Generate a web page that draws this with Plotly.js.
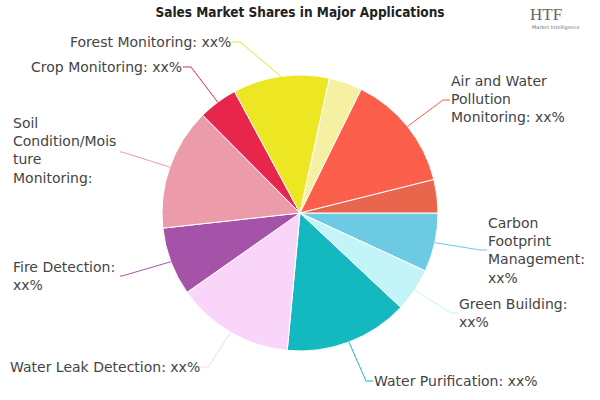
<!DOCTYPE html>
<html><head><meta charset="utf-8">
<script src="https://cdn.plot.ly/plotly-3.0.1.min.js"></script>
<style>html,body{margin:0;padding:0;background:#fff}</style>
</head><body><div id="chart" style="width:600px;height:400px"></div>
<script>
// ---- data ----
const categories = [
  "Carbon Footprint Management", "Green Building", "Water Purification",
  "Water Leak Detection", "Fire Detection", "Soil Condition/Moisture Monitoring",
  "Crop Monitoring", "Forest Monitoring", "Other A",
  "Air and Water Pollution Monitoring", "Other B"
];
const shares = [6.9, 5.1, 14.5, 13.8, 8.0, 14.3, 4.6, 11.3, 3.9, 13.8, 3.9];
const labelTexts = [
  "Carbon<br>Footprint<br>Management:<br>xx%", "Green Building:<br>xx%", "Water Purification: xx%",
  "Water Leak Detection: xx%", "Fire Detection:<br>xx%", "Soil<br>Condition/Mois<br>ture<br>Monitoring:",
  "Crop Monitoring: xx%", "Forest Monitoring: xx%", null,
  "Air and Water<br>Pollution<br>Monitoring: xx%", null
];
const titleText = "Sales Market Shares in Major Applications";

// ---- styles / layout ----
const colors = ["#6ccae3", "#c3f4f7", "#13b9bf", "#fad5fa", "#a553a9", "#eb9ba9",
                "#e8264b", "#ede622", "#f5f0a2", "#fb5f4b", "#e9664d"];
// label placement in pixels: elbow point, text x, text y, anchor
const labelPos = [
  {ex: 480, ey: 250, tx: 487, ty: 250, anchor: "left"},
  {ex: 451, ey: 313, tx: 458, ty: 313, anchor: "left"},
  {ex: 366, ey: 381, tx: 373, ty: 381, anchor: "left"},
  {ex: 208, ey: 367, tx: 201, ty: 367, anchor: "right"},
  {ex: 122, ey: 276, tx: 12,  ty: 276, anchor: "left", endX: 120},
  {ex: 122, ey: 152, tx: 12,  ty: 151, anchor: "left", endX: 120},
  {ex: 191, ey: 67,  tx: 183, ty: 67,  anchor: "right"},
  {ex: 240, ey: 42,  tx: 232, ty: 42,  anchor: "right"},
  null,
  {ex: 443, ey: 100, tx: 450, ty: 99,  anchor: "left"},
  null
];
const W = 600, H = 400;
const cx = 300, cy = 213, R = 138;
const px = x => x / W, py = y => 1 - y / H;

const total = shares.reduce((a, b) => a + b, 0);
const annotations = [], shapes = [];
let cum = 0;
shares.forEach((v, i) => {
  const mid = (cum + v / 2) / total * 2 * Math.PI;
  cum += v;
  const lp = labelPos[i];
  if (!lp || !labelTexts[i]) return;
  const sx = cx + R * Math.cos(mid), sy = cy + R * Math.sin(mid);
  const endX = lp.endX !== undefined ? lp.endX : lp.tx;
  shapes.push({
    type: "path", xref: "paper", yref: "paper",
    path: `M ${px(sx)},${py(sy)} L ${px(lp.ex)},${py(lp.ey)} L ${px(endX)},${py(lp.ey)}`,
    line: {color: colors[i], width: 1}
  });
  annotations.push({
    xref: "paper", yref: "paper", x: px(lp.tx), y: py(lp.ty),
    xanchor: lp.anchor, yanchor: "middle", align: "left", showarrow: false,
    text: labelTexts[i], borderpad: 0,
    font: {family: "DejaVu Sans, Verdana, sans-serif", size: 14, color: "#444"}
  });
});
// logo text
annotations.push({xref: "paper", yref: "paper", x: px(528), y: py(14), xanchor: "left", yanchor: "middle",
  showarrow: false, text: "HTF", font: {family: "Liberation Serif, serif", size: 17, color: "#666"}});
annotations.push({xref: "paper", yref: "paper", x: px(530), y: py(27), xanchor: "left", yanchor: "middle",
  showarrow: false, text: "Market Intelligence", font: {family: "DejaVu Sans, sans-serif", size: 5, color: "#777"}});

const trace = {
  type: "pie", labels: categories, values: shares, sort: false,
  direction: "clockwise", rotation: 90, textinfo: "none", hoverinfo: "none",
  marker: {colors: colors, line: {color: "#ffffff", width: 1}},
  domain: {x: [(cx - R) / W, (cx + R) / W], y: [py(cy + R), py(cy - R)]},
  showlegend: false
};

const layout = {
  width: W, height: H, margin: {l: 0, r: 0, t: 0, b: 0},
  paper_bgcolor: "#fff",
  title: {text: "<b>" + titleText + "</b>", x: 0.5, xanchor: "center", y: 1 - 12 / H, yanchor: "middle",
          font: {family: "Liberation Sans Narrow, DejaVu Sans Condensed, sans-serif", size: 13.5, color: "#222"}},
  shapes: shapes, annotations: annotations, showlegend: false
};
Plotly.newPlot("chart", [trace], layout, {displayModeBar: false, staticPlot: true});
</script></body></html>
